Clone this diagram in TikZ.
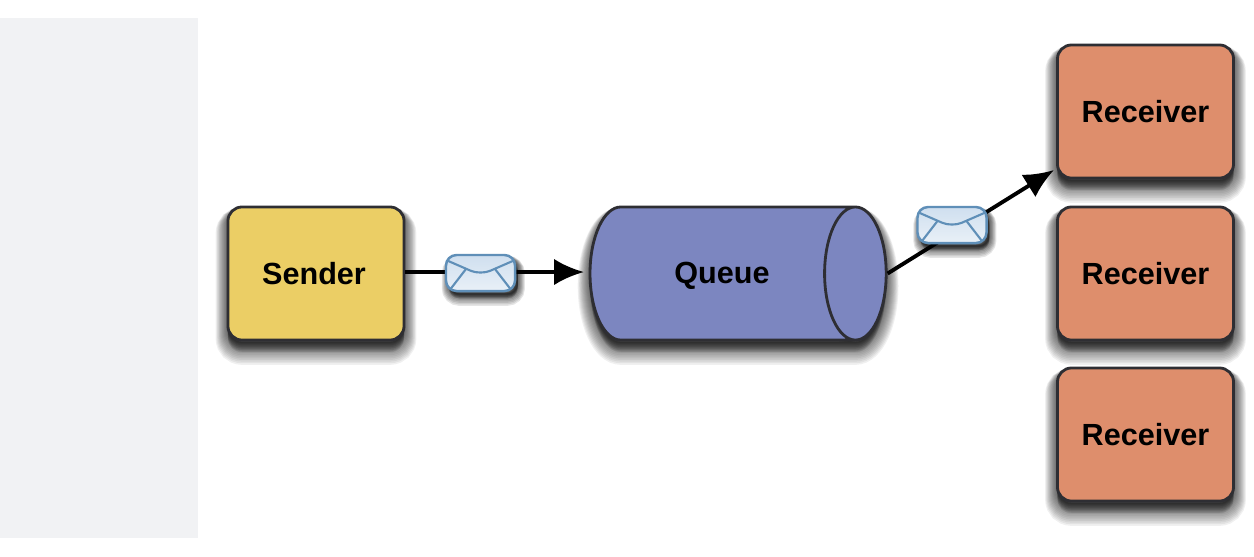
\documentclass[tikz,border=0pt]{standalone}
\usepackage{fontspec}
\setmainfont{Liberation Sans}
\usetikzlibrary{arrows.meta,shapes.geometric}
\definecolor{panelgray}{HTML}{F1F2F4}
\definecolor{senderyellow}{HTML}{EBCE65}
\definecolor{queueblue}{HTML}{7C86C0}
\definecolor{receiverorange}{HTML}{DE8E6C}
\definecolor{edgedark}{HTML}{2E2E33}
\definecolor{envelopeedge}{HTML}{5F8FB8}
\definecolor{envelopetop}{HTML}{CFDFEF}
\definecolor{envelopelow}{HTML}{E9F0F7}
\tikzset{
  shadowlayer/.style={preaction={draw=black,fill=black,line width=#1,opacity=.06,transform canvas={yshift={-.6pt-.42*#1}}}},
  softshadow/.style={shadowlayer/.list={7pt,6.5pt,6pt,5.5pt,5pt,4.5pt,4pt,3.5pt,3pt,2.5pt,2pt,1.5pt,1pt,.5pt}},
  mailshadow/.style={preaction={draw=black,fill=black,line width=#1,opacity=.1,transform canvas={xshift=.8pt,yshift={-.8pt-.35*#1}}}},
  smallshadow/.style={mailshadow/.list={4pt,3.5pt,3pt,2.5pt,2pt,1.5pt,1pt,.5pt}},
  box/.style={draw=edgedark,line width=.8pt,rounded corners=4pt,minimum width=1.76cm,minimum height=1.33cm,inner sep=0pt,
    font=\bfseries\fontsize{8.7}{10}\selectfont,text=black,softshadow},
  barrel/.style={shape=cylinder,draw=edgedark,fill=queueblue,line width=.8pt,aspect=2.25,minimum width=1.33cm,minimum height=2.96cm,
    inner sep=0pt,font=\bfseries\fontsize{8.7}{10}\selectfont,text=black,softshadow},
  envelope/.style={draw=envelopeedge,line width=.7pt,rounded corners=3pt,minimum width=.69cm,minimum height=.36cm,inner sep=0pt,
    top color=envelopetop,bottom color=envelopelow,smallshadow,
    path picture={
      \draw[envelopeedge,line width=.6pt] ([yshift=-.05cm]path picture bounding box.north west) -- ([yshift=-.2cm]path picture bounding box.north) -- ([yshift=-.05cm]path picture bounding box.north east);
      \draw[envelopeedge,line width=.6pt] ([xshift=.03cm]path picture bounding box.south west) -- ([xshift=.2cm,yshift=-.14cm]path picture bounding box.north west);
      \draw[envelopeedge,line width=.6pt] ([xshift=-.03cm]path picture bounding box.south east) -- ([xshift=-.2cm,yshift=-.14cm]path picture bounding box.north east);
    }},
  link/.style={draw=black,line width=1.1pt,-{Latex[length=8.5pt,width=7.5pt]}},
}
\begin{document}
\begin{tikzpicture}[x=0.01cm,y=-0.01cm]
\useasboundingbox (0,0) rectangle (1254,556);
\fill[panelgray] (0,18) rectangle (198,538);
\node[box,fill=senderyellow] (sender) at (316,273.5) {\hspace{-.04cm}Sender};
\node[barrel] (queue) at (722,273.5) {\raisebox{-.02cm}[\height][\depth]{Queue}};
\node[box,fill=receiverorange] (receivertop) at (1145.5,111.5) {Receiver};
\node[box,fill=receiverorange] (receivermid) at (1145.5,273.5) {Receiver};
\node[box,fill=receiverorange] (receiverlow) at (1145.5,434.5) {Receiver};
\coordinate (queuetip) at (584,272);
\coordinate (sendout) at (sender.east|-queuetip);
\coordinate (receivertip) at (1054,170);
\draw[link] (sendout) -- (queuetip);
\draw[link] (queue.east) -- (receivertip);
\node[envelope] (mailone) at (480.5,273) {};
\node[envelope] (mailtwo) at (952,225) {};
\end{tikzpicture}
\end{document}
